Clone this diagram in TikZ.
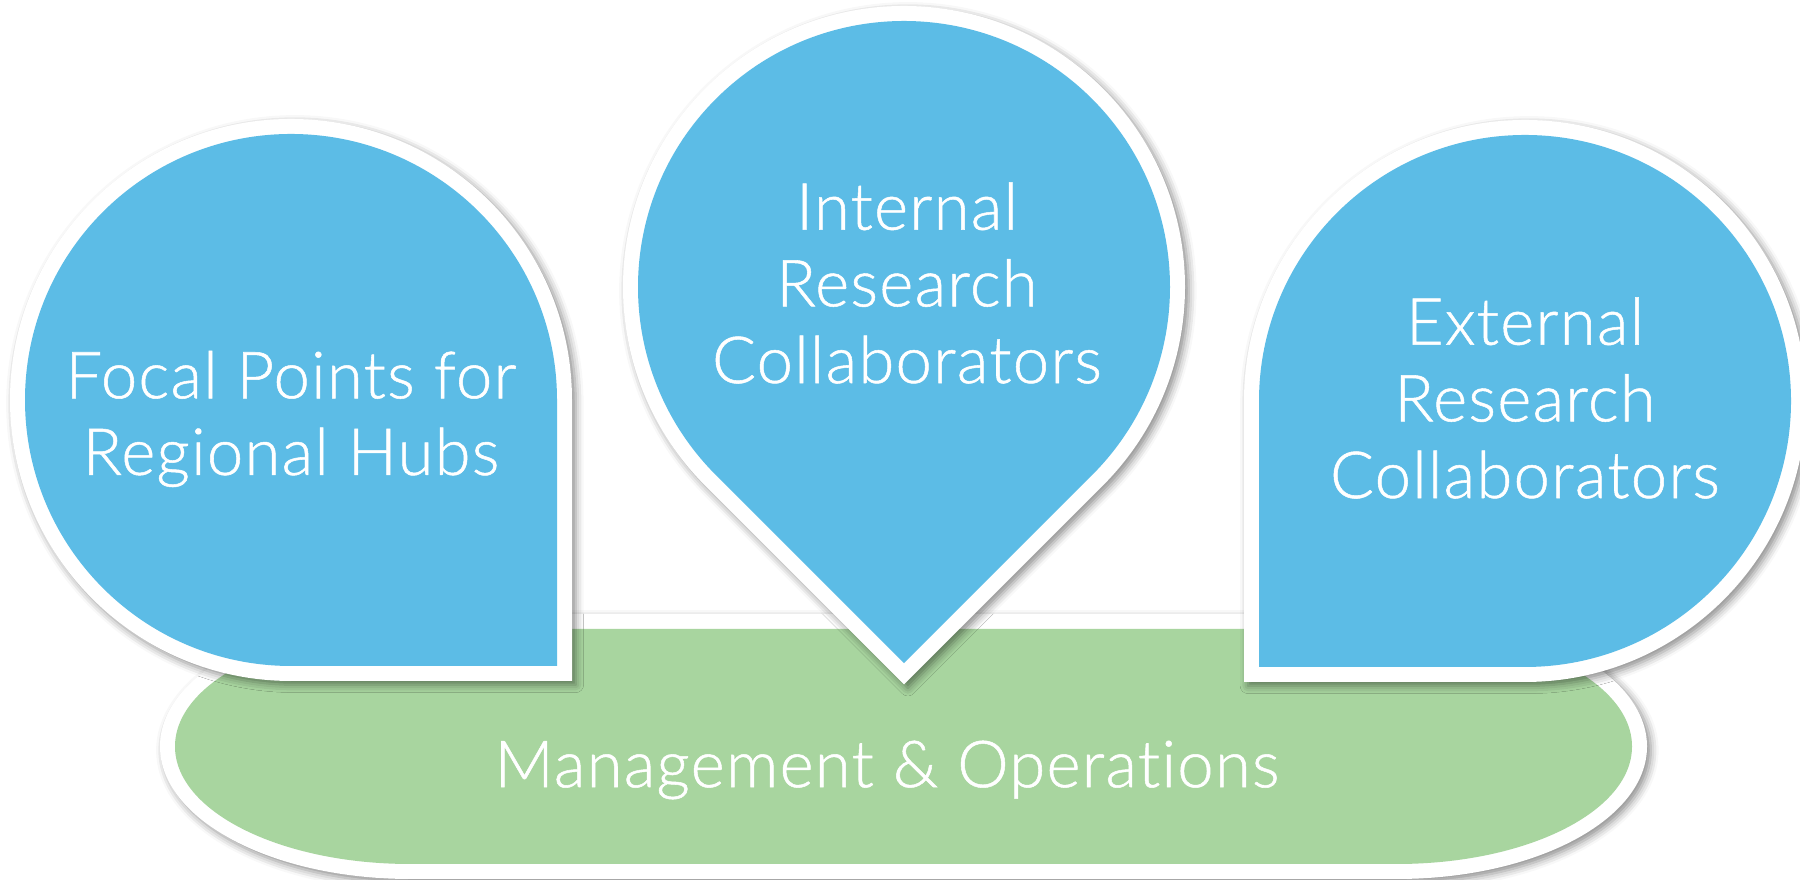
\documentclass[tikz,border=0pt]{standalone}
\usepackage{fontspec}
\setmainfont{Lato Light}[Ligatures=NoCommon, LetterSpace=2, FakeBold=0.8]
\usetikzlibrary{shadows.blur}
\definecolor{bubbleblue}{RGB}{92,188,230}
\definecolor{basegreen}{RGB}{168,213,159}
\begin{document}
\begin{tikzpicture}[x=0.01cm,y=0.01cm,
  rim/.style={fill=white, blur shadow={shadow xshift=1.1pt, shadow yshift=-1.1pt, shadow blur radius=2.2pt, shadow opacity=45}},
  bubble/.style={fill=bubbleblue},
  base/.style={fill=basegreen},
  caption/.style={text=white, align=center, inner sep=0pt, font=\fontsize{18.5pt}{21.8pt}\selectfont}
]
\useasboundingbox (0,0) rectangle (1800,880);
% base (Management & Operations)
\path[rim] (410,266) -- (1397,266) arc[start angle=90,end angle=-90,x radius=250,y radius=132.5]
  -- (410,1) arc[start angle=270,end angle=90,x radius=250,y radius=132.5] -- cycle;
\path[base] (410,251) -- (1397,251) arc[start angle=90,end angle=-90,x radius=235,y radius=117.5]
  -- (410,16) arc[start angle=270,end angle=90,x radius=235,y radius=117.5] -- cycle;
\node[caption] (mgmt) at (887,110) {Management \& Operations};
% left bubble
\path[rim] (572,199) -- (291,199) arc[start angle=-90,end angle=-360,radius=281] -- cycle;
\path[bubble] (557,214) -- (291,214) arc[start angle=-90,end angle=-360,radius=266] -- cycle;
\node[caption] (focal) at (291,461) {Focal Points for\\Regional Hubs};
% right bubble
\path[rim] (1244,198) -- (1244,479) arc[start angle=180,end angle=-90,radius=281] -- cycle;
\path[bubble] (1259,213) -- (1259,479) arc[start angle=180,end angle=-90,radius=266] -- cycle;
\node[caption] (external) at (1525,482) {External\\Research\\Collaborators};
% middle bubble
\path[rim] (904,195.6) -- (705.3,394.3) arc[start angle=-135,end angle=-405,radius=281] -- cycle;
\path[bubble] (904,216.8) -- (715.9,404.9) arc[start angle=-135,end angle=-405,radius=266] -- cycle;
\node[caption] (internal) at (907,597) {Internal\\Research\\Collaborators};
\end{tikzpicture}
\end{document}
